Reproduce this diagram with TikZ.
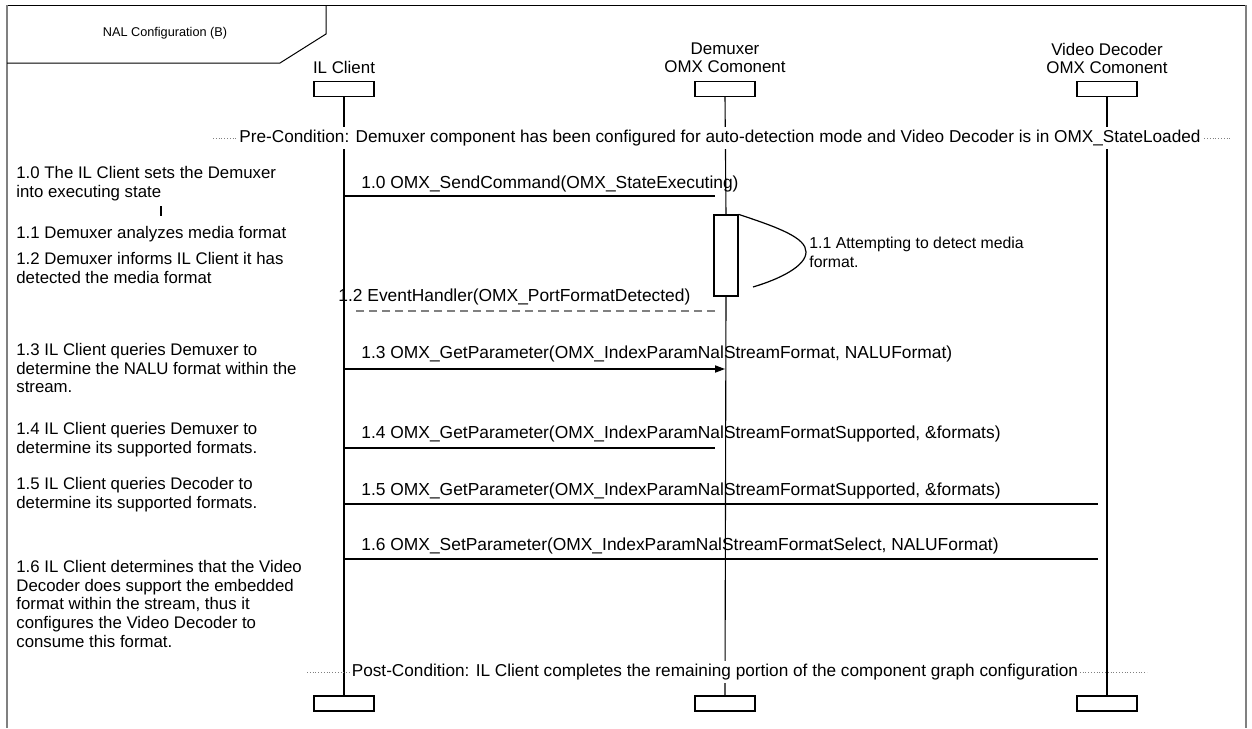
\documentclass[tikz,border=0pt]{standalone}
\usepackage{fontspec}
\setmainfont{Liberation Sans}
\usetikzlibrary{arrows.meta}
\begin{document}
\begin{tikzpicture}[x=0.5pt,y=-0.5pt,
  head/.style={draw,line width=0.6pt,minimum width=30pt,minimum height=7.5pt,inner sep=0pt,fill=white},
  life/.style={line width=0.55pt},
  msg/.style={line width=0.6pt},
  retmsg/.style={line width=0.6pt,gray,dash pattern=on 4pt off 2.5pt},
  note/.style={font=\fontsize{8.4}{9.35}\selectfont,align=left,anchor=north west,inner sep=0pt},
  mlabel/.style={font=\fontsize{8.7}{9.5}\selectfont,inner sep=0pt,anchor=west},
  slabel/.style={font=\fontsize{7.9}{9.5}\selectfont,inner sep=0pt,anchor=west,align=left},
  hlabel/.style={font=\fontsize{8.45}{9}\selectfont,align=center,inner sep=0pt},
  cond/.style={densely dotted,line width=0.4pt,gray},
  condlabel/.style={font=\fontsize{8.6}{9}\selectfont,fill=white,inner xsep=0.5pt,inner ysep=1.5pt},
  framegrey/.style={gray,line width=1.2pt}
]
\useasboundingbox (0,0) rectangle (1252,728);
% frame
\draw[line width=0.5pt] (7,5) -- (1246,5);
\draw[framegrey] (7,5) -- (7,728);
\draw[framegrey] (1246,5) -- (1246,728);
% title tab
\draw[line width=0.5pt] (7,63) -- (280,63) -- (326,34) -- (326,5);
\node[font=\fontsize{6.35}{7}\selectfont,inner sep=0pt] (title) at (165,33) {NAL Configuration (B)};

% lifeline heads
\node[head] (ilt) at (344,89) {};
\node[head] (dmt) at (725,89) {};
\node[head] (vdt) at (1107,89) {};
\node[head] (ilb) at (344,703.5) {};
\node[head] (dmb) at (725,703.5) {};
\node[head] (vdb) at (1107,703.5) {};
\node[hlabel] (ilname) at (344,67) {IL Client};
\node[hlabel] (dmname) at (725,58) {Demuxer\\OMX Comonent};
\node[hlabel] (vdname) at (1107,58) {Video Decoder\\OMX Comonent};

% activation box
\node[draw,line width=0.6pt,minimum width=12pt,minimum height=40.5pt,inner sep=0pt] (act) at (726,255.5) {};

% lifelines
\draw[life] (ilt.south) -- (ilb.north);
\draw[life] (dmt.south) -- (act.north);
\draw[life] (act.south) -- (dmb.north);
\draw[life] (vdt.south) -- (vdb.north);

% conditions
\coordinate (preL) at (213,138);
\coordinate (preR) at (1232,138);
\draw[cond] (preL) -- (preR);
\node[condlabel] (pre) at (720,138) {Pre-Condition: Demuxer component has been configured for auto-detection mode and Video Decoder is in OMX\_StateLoaded};
\coordinate (postL) at (307,672);
\coordinate (postR) at (1147,672);
\draw[cond] (postL) -- (postR);
\node[condlabel] (post) at (715,672) {Post-Condition: IL Client completes the remaining portion of the component graph configuration};

% messages
\coordinate (m10s) at (344,196);  \coordinate (m10e) at (715,196);
\draw[msg] (m10s) -- (m10e);
\node[mlabel] (l10) at (361,184) {1.0 OMX\_SendCommand(OMX\_StateExecuting)};

\coordinate (selfa) at (806,252);
\coordinate (selfb) at (753,287);
\draw[msg] (act.north east) .. controls (780,228) and (806,238) .. (selfa)
  .. controls (806,266) and (780,279) .. (selfb);
\node[slabel] (l11) at (809,252.5) {1.1 Attempting to detect media\\format.};

\coordinate (m12s) at (715,311);  \coordinate (m12e) at (352,311);
\draw[retmsg] (m12s) -- (m12e);
\node[mlabel] (l12) at (338,297) {1.2 EventHandler(OMX\_PortFormatDetected)};

\coordinate (m13s) at (344,369);  \coordinate (m13e) at (725,369);
\draw[msg,-{Triangle[length=5pt,width=3.6pt]}] (m13s) -- (m13e);
\node[mlabel] (l13) at (361,354) {1.3 OMX\_GetParameter(OMX\_IndexParamNalStreamFormat, NALUFormat)};

\coordinate (m14s) at (344,448);  \coordinate (m14e) at (715,448);
\draw[msg] (m14s) -- (m14e);
\node[mlabel] (l14) at (361,434) {1.4 OMX\_GetParameter(OMX\_IndexParamNalStreamFormatSupported, \&formats)};

\coordinate (m15s) at (344,504);  \coordinate (m15e) at (1098,504);
\draw[msg] (m15s) -- (m15e);
\node[mlabel] (l15) at (361,491) {1.5 OMX\_GetParameter(OMX\_IndexParamNalStreamFormatSupported, \&formats)};

\coordinate (m16s) at (344,559);  \coordinate (m16e) at (1098,559);
\draw[msg] (m16s) -- (m16e);
\node[mlabel] (l16) at (361,546) {1.6 OMX\_SetParameter(OMX\_IndexParamNalStreamFormatSelect, NALUFormat)};

% notes
\node[note] (n10) at (16,166) {1.0 The IL Client sets the Demuxer\\into executing state};
\coordinate (tickA) at (161,206); \coordinate (tickB) at (161,216);
\draw[life] (tickA) -- (tickB);
\node[note] (n11) at (16,226) {1.1 Demuxer analyzes media format};
\node[note] (n12) at (16,252) {1.2 Demuxer informs IL Client it has\\detected the media format};
\node[note] (n13) at (16,343) {1.3 IL Client queries Demuxer to\\determine the NALU format within the\\stream.};
\node[note] (n14) at (16,422) {1.4 IL Client queries Demuxer to\\determine its supported formats.};
\node[note] (n15) at (16,477) {1.5 IL Client queries Decoder to\\determine its supported formats.};
\node[note] (n16) at (16,560) {1.6 IL Client determines that the Video\\Decoder does support the embedded\\format within the stream, thus it\\configures the Video Decoder to\\consume this format.};
\end{tikzpicture}
\end{document}
